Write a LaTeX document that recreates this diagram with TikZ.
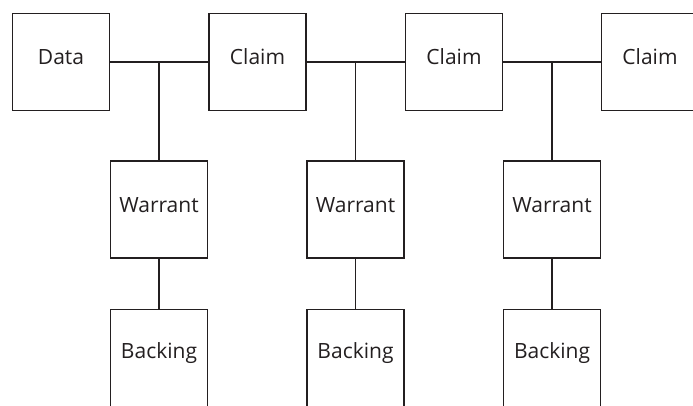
\documentclass[tikz,border=0pt]{standalone}
\usepackage{fontspec}
\setmainfont{Open Sans}
\definecolor{ink}{HTML}{231F20}
\begin{document}
\begin{tikzpicture}[x=1pt,y=1pt,
  box/.style={draw=ink, line width=1.9pt, minimum width=97pt, minimum height=97pt,
    inner sep=0pt, text=ink, font=\fontsize{21}{24}\selectfont,
    text height=15pt, text depth=9pt},
  backbox/.style={box, minimum height=120pt, text depth=37pt},
  link/.style={draw=ink, line width=1.9pt}]
\useasboundingbox (0,0) rectangle (693,-406);
\clip (0,0) rectangle (693,-406);
% top row
\node[box] (d)  at (61,-62)    {Data};
\node[box] (c1) at (257.5,-62) {Claim};
\node[box] (c2) at (454,-62)   {Claim};
\node[box] (c3) at (650,-62)   {Claim};
% warrants
\node[box] (w1) at (159,-209.5) {Warrant};
\node[box] (w2) at (355.5,-209.5) {Warrant};
\node[box] (w3) at (552,-209.5) {Warrant};
% backings
\node[backbox, anchor=north] (b1) at (159,-308.5) {Backing};
\node[backbox, anchor=north] (b2) at (355.5,-308.5) {Backing};
\node[backbox, anchor=north] (b3) at (552,-308.5) {Backing};
% junctions
\coordinate (j1) at (w1.north |- d.east);
\coordinate (j2) at (w2.north |- c1.east);
\coordinate (j3) at (w3.north |- c2.east);
% connectors
\draw[link] (d.east) -- (c1.west);
\draw[link] (c1.east) -- (c2.west);
\draw[link] (c2.east) -- (c3.west);
\draw[link] (j1) -- (w1.north);
\draw[link] (j2) -- (w2.north);
\draw[link] (j3) -- (w3.north);
\draw[link] (w1.south) -- (b1.north);
\draw[link] (w2.south) -- (b2.north);
\draw[link] (w3.south) -- (b3.north);
\end{tikzpicture}
\end{document}
